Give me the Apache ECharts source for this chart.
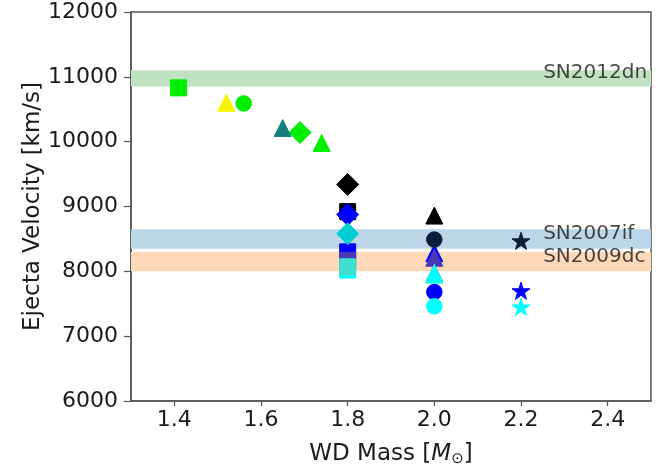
<!DOCTYPE html>
<html><head><meta charset="utf-8">
<script src="https://cdn.jsdelivr.net/npm/echarts@6/dist/echarts.min.js"></script>
<style>html,body{margin:0;padding:0;background:#fff}#c{width:670px;height:472px}</style>
</head><body><div id="c"></div>
<script>
// ---------------- data ----------------
const xTicks = [1.4, 1.6, 1.8, 2.0, 2.2, 2.4];

const squareMass = [1.41, 1.80, 1.80, 1.80, 1.80, 1.80];
const squareVel  = [10830, 8920, 8020, 8300, 8170, 8070];

const diamondMass = [1.69, 1.80, 1.80, 1.80];
const diamondVel  = [10140, 9340, 8875, 8580];

const triangleMass = [1.52, 1.65, 1.74, 2.00, 2.00, 2.00, 2.00, 2.00];
const triangleVel  = [10600, 10210, 9980, 8860, 8280, 8210, 7980, 7950];

const circleMass = [1.56, 2.00, 2.00, 2.00];
const circleVel  = [10590, 8490, 7680, 7460];

const starMass = [2.20, 2.20, 2.20];
const starVel  = [8470, 7700, 7450];

const bandNames = ['SN2012dn', 'SN2007if', 'SN2009dc'];
const bandLow   = [10850, 8350, 8000];
const bandHigh  = [11100, 8650, 8300];
const bandLabelMass = [2.25, 2.25, 2.25];
const bandLabelVel  = [11065, 8580, 8225];

// ---------------- styles ----------------
const C = {
  lime: '#00ee00', yellow: '#f5f500', teal: '#137f7f', black: '#000000',
  blue: '#0000ff', purple: '#4b38b8', turq: '#40e0d0', cyan: '#00ffff',
  dturq: '#00ced1', navy: '#0b1f3a'
};
const squareColors   = [C.lime, C.black, C.cyan, C.blue, C.purple, C.turq];
const diamondColors  = [C.lime, C.black, C.blue, C.dturq];
const triangleColors = [C.yellow, C.teal, C.lime, C.black, C.blue, C.purple, C.turq, C.cyan];
const circleColors   = [C.lime, C.navy, C.blue, C.cyan];
const starColors     = [C.navy, C.blue, C.cyan];
const bandColors     = ['#c0e2c0', '#bcd6e8', '#ffd9b7'];

const FONT = 'DejaVu Sans';
const AX = '#555555';
const TXT = '#1a1a1a';

function starPath() {
  const pts = [];
  for (let i = 0; i < 10; i++) {
    const r = i % 2 === 0 ? 50 : 19.1;
    const a = -Math.PI / 2 + i * Math.PI / 5;
    pts.push((50 + r * Math.cos(a)).toFixed(2) + ' ' + (50 + r * Math.sin(a)).toFixed(2));
  }
  return 'path://M' + pts.join(' L') + ' Z';
}

function pts(ms, vs, cols) {
  return ms.map((m, i) => ({ value: [m, vs[i]], itemStyle: { color: cols[i], borderColor: cols[i], borderWidth: 1, opacity: 1 } }));
}
function markerSeries(ms, vs, cols, symbol, size, keep) {
  return {
    type: 'scatter', z: 3, symbol: symbol, symbolSize: size, symbolKeepAspect: !!keep,
    itemStyle: { opacity: 1 },
    data: pts(ms, vs, cols), silent: true, animation: false
  };
}

const chart = echarts.init(document.getElementById('c'), null, { renderer: 'canvas' });
chart.setOption({
  animation: false,
  backgroundColor: '#ffffff',
  grid: { left: 131, right: 19, top: 12, bottom: 67, show: true, borderColor: AX, borderWidth: 1.5, backgroundColor: 'transparent' },
  xAxis: {
    type: 'value', min: 1.3, max: 2.5,
    splitLine: { show: false },
    axisLine: { onZero: false, lineStyle: { color: AX, width: 1.5 } },
    axisTick: { customValues: xTicks, length: 5, lineStyle: { color: AX, width: 1.2 } },
    axisLabel: { customValues: xTicks, formatter: v => v.toFixed(1), fontSize: 22, color: TXT, margin: 8, fontFamily: FONT },
    name: 'WD Mass [{it|M}{sub|⊙}]', nameLocation: 'middle', nameGap: 41, nameMoveOverlap: false,
    nameTextStyle: {
      fontSize: 23, color: TXT, fontFamily: FONT,
      rich: {
        it: { fontSize: 23, fontStyle: 'italic', color: TXT, fontFamily: FONT },
        sub: { fontSize: 15, color: TXT, fontFamily: FONT, padding: [10, 0, 0, 0] }
      }
    }
  },
  yAxis: {
    type: 'value', min: 6000, max: 12000, interval: 1000,
    splitLine: { show: false },
    axisLine: { lineStyle: { color: AX, width: 1.5 } },
    axisTick: { length: 7, lineStyle: { color: AX, width: 1.2 } },
    axisLabel: { fontSize: 22, color: TXT, margin: 13, fontFamily: FONT, formatter: v => String(v) },
    name: 'Ejecta Velocity [km/s]', nameLocation: 'middle', nameGap: 98, nameMoveOverlap: false,
    nameTextStyle: { fontSize: 23, color: TXT, fontFamily: FONT, verticalAlign: 'middle' }
  },
  series: [
    {
      type: 'scatter', z: 1, data: [], silent: true,
      markArea: {
        silent: true,
        label: { show: false },
        data: bandLow.map((lo, i) => [
          { yAxis: lo, itemStyle: { color: bandColors[i], opacity: 1 } },
          { yAxis: bandHigh[i] }
        ])
      }
    },
    markerSeries(squareMass, squareVel, squareColors, 'rect', 16),
    markerSeries(diamondMass, diamondVel, diamondColors, 'diamond', 22),
    markerSeries(triangleMass, triangleVel, triangleColors, 'triangle', 17),
    markerSeries(circleMass, circleVel, circleColors, 'circle', 15.5),
    markerSeries(starMass, starVel, starColors, starPath(), 18, true),
    {
      type: 'scatter', z: 4, symbolSize: 1, silent: true,
      itemStyle: { color: 'rgba(0,0,0,0)' },
      data: bandNames.map((n, i) => ({ name: n, value: [bandLabelMass[i], bandLabelVel[i]] })),
      label: { show: true, position: 'right', distance: 0, formatter: p => p.name, fontSize: 20, color: TXT, fontFamily: FONT }
    }
  ]
});
</script>
</body></html>
